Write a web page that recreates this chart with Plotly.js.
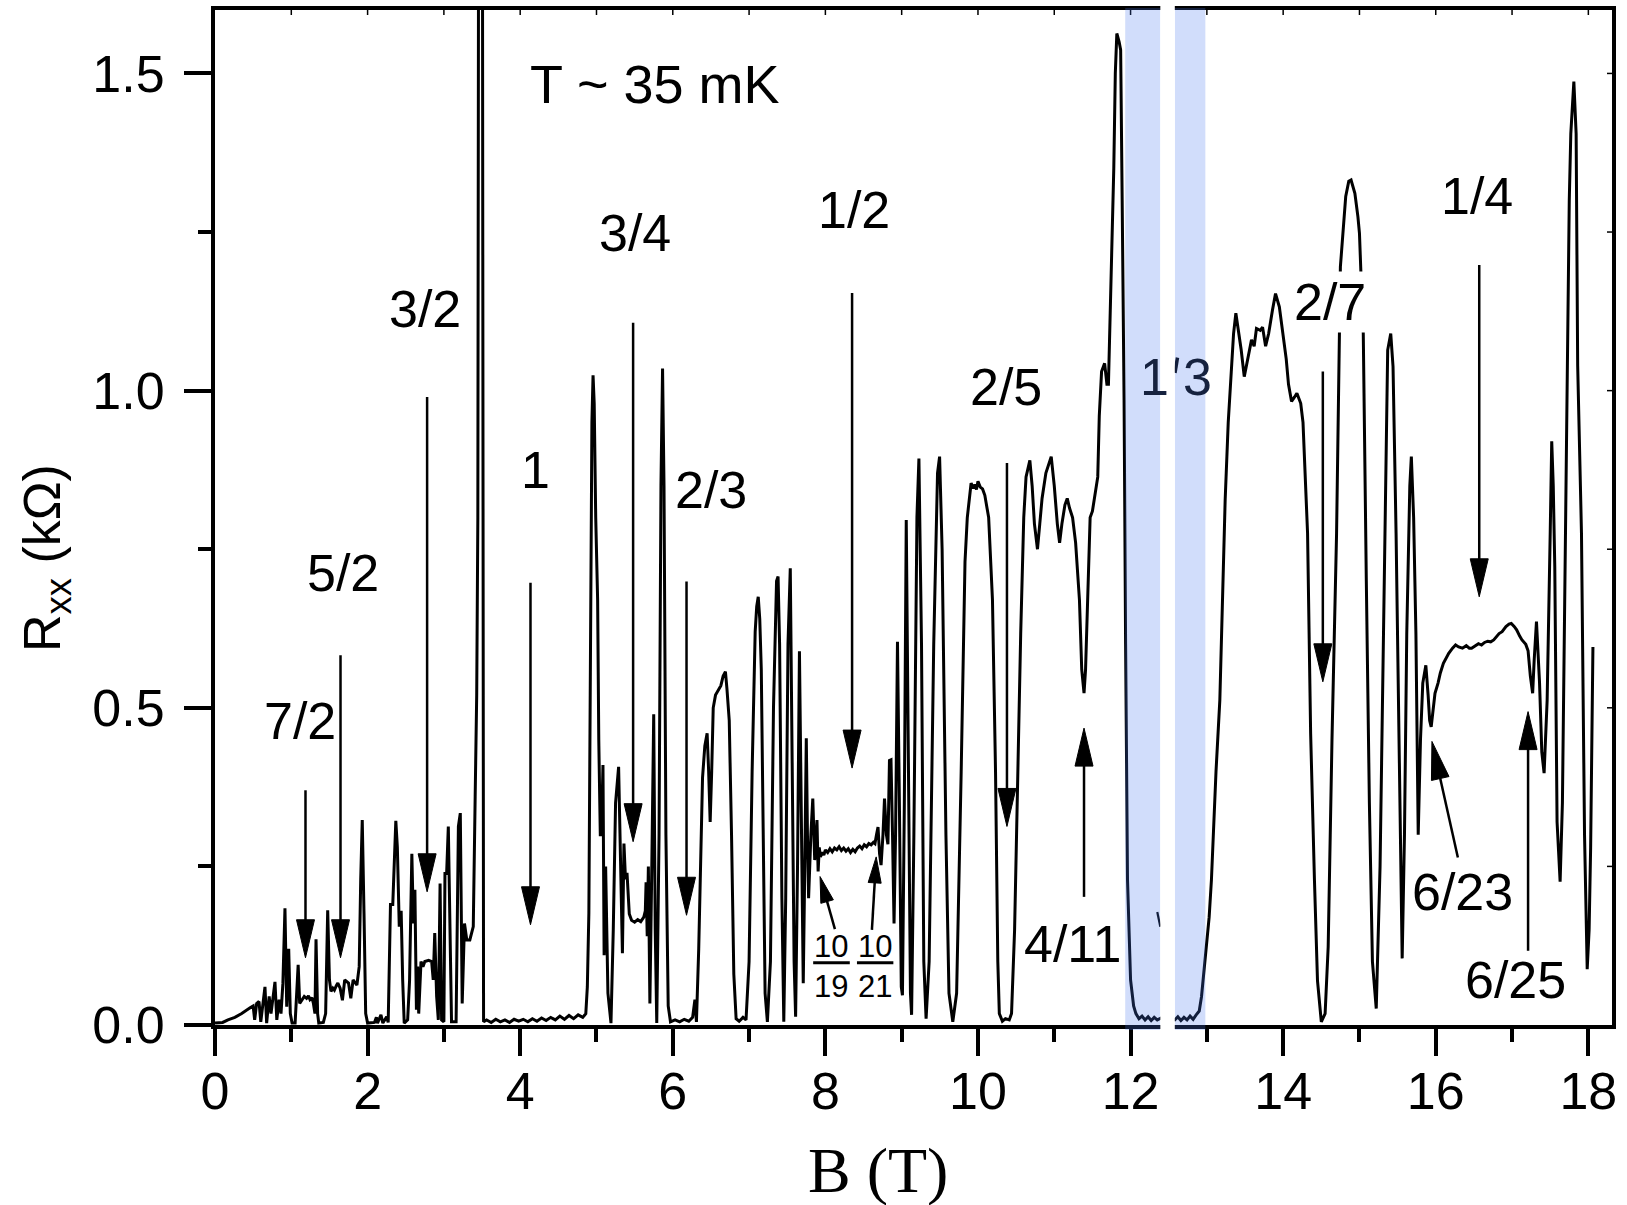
<!DOCTYPE html>
<html>
<head>
<meta charset="utf-8">
<script src="https://cdn.plot.ly/plotly-3.0.1.min.js"></script>
<style>html,body{margin:0;padding:0;background:#fff;}#chart{width:1627px;height:1205px;}</style>
</head>
<body>
<div id="chart"></div>
<script>
// ---------------- data (B in tesla, Rxx in kOhm) ----------------
const bLow = [0,0.10,0.17,0.26,0.35,0.415,0.46,0.50,0.52,0.546,
0.577,0.60,0.62,0.655,0.677,0.71,0.734,0.765,0.786,0.81,
0.84,0.865,0.89,0.917,0.94,0.966,0.987,1.01,1.05,1.075,
1.09,1.11,1.145,1.17,1.20,1.225,1.245,1.27,1.29,1.31,
1.324,1.345,1.36,1.42,1.45,1.477,1.50,1.52,1.545,1.565,
1.59,1.61,1.64,1.67,1.70,1.75,1.78,1.81,1.86,1.89,
1.91,1.93,1.953,1.975,2.00,2.09,2.115,2.13,2.175,2.20,
2.25,2.27,2.30,2.33,2.37,2.39,2.415,2.44,2.46,2.48,
2.525,2.55,2.58,2.60,2.62,2.64,2.656,2.67,2.70,2.726,
2.75,2.80,2.84,2.86,2.88,2.905,2.927,2.95,2.97,3.00,
3.014,3.036,3.058,3.08,3.10,3.16,3.19,3.215,3.24,3.27,
3.30,3.34,3.385,3.41,3.43,3.445,3.455,3.505,3.52,3.56,
3.62,3.68,3.74,3.80,3.86,3.92,3.98,4.04,4.10,4.16,
4.22,4.28,4.34,4.40,4.46,4.52,4.58,4.64,4.70,4.76,
4.82,4.86,4.88];
const rLow = [0.003,0.004,0.008,0.012,0.018,0.024,0.027,0.030,0.008,0.034,
0.037,0.005,0.024,0.060,0.003,0.045,0.018,0.050,0.068,0.008,
0.040,0.018,0.066,0.184,0.029,0.120,0.018,0.003,0.003,0.060,
0.095,0.034,0.040,0.045,0.042,0.046,0.040,0.043,0.034,0.018,
0.135,0.018,0.003,0.004,0.018,0.181,0.071,0.053,0.058,0.055,
0.062,0.066,0.058,0.039,0.071,0.066,0.042,0.071,0.063,0.092,
0.230,0.323,0.176,0.018,0.003,0.004,0.012,0.003,0.016,0.003,
0.013,0.004,0.190,0.190,0.322,0.280,0.155,0.180,0.070,0.003,
0.008,0.070,0.270,0.160,0.213,0.024,0.092,0.018,0.100,0.092,
0.100,0.102,0.100,0.071,0.145,0.045,0.008,0.223,0.008,0.005,
0.239,0.239,0.313,0.150,0.005,0.005,0.313,0.334,0.034,0.160,
0.134,0.134,0.155,0.360,0.520,0.800,1.800,1.800,0.005,0.008,
0.004,0.009,0.005,0.008,0.004,0.009,0.006,0.009,0.005,0.010,
0.006,0.011,0.007,0.012,0.008,0.014,0.009,0.015,0.010,0.016,
0.012,0.018,0.060];

const bMid = [4.90,4.92,4.94,4.955,4.97,4.99,5.015,5.03,5.05,5.065,
5.085,5.10,5.12,5.15,5.19,5.22,5.25,5.29,5.32,5.34,
5.36,5.38,5.40,5.43,5.46,5.50,5.54,5.58,5.62,5.64,
5.65,5.665,5.68,5.70,5.725,5.75,5.77,5.79,5.82,5.845,
5.866,5.885,5.91,5.94,5.97,6.03,6.09,6.15,6.21,6.26,
6.29,6.31,6.34,6.37,6.39,6.42,6.45,6.47,6.49,6.51,
6.53,6.56,6.60,6.63,6.66,6.69,6.71,6.74,6.77,6.80,
6.83,6.87,6.92,6.96];
const rMid = [0.176,0.55,0.95,1.024,0.98,0.80,0.67,0.45,0.30,0.30,
0.41,0.11,0.25,0.05,0.003,0.15,0.35,0.407,0.25,0.113,
0.286,0.23,0.24,0.175,0.165,0.162,0.166,0.163,0.17,0.18,
0.225,0.14,0.25,0.034,0.25,0.49,0.15,0.003,0.30,0.85,
1.035,0.85,0.30,0.03,0.005,0.008,0.005,0.009,0.006,0.012,
0.04,0.005,0.12,0.30,0.39,0.44,0.46,0.40,0.32,0.40,
0.50,0.52,0.53,0.535,0.55,0.557,0.53,0.48,0.30,0.08,
0.01,0.006,0.012,0.008];

const bRes = [7.00,7.04,7.08,7.10,7.12,7.14,7.16,7.18,7.21,7.24,
7.28,7.32,7.36,7.38,7.40,7.43,7.455,7.48,7.51,7.54,
7.56,7.59,7.61,7.635,7.66,7.685,7.71,7.73,7.75,7.765,
7.78,7.81,7.835,7.86,7.89,7.905,7.92,7.935,7.96,7.98,
8.00,8.03,8.06,8.09,8.12,8.15,8.18,8.21,8.24,8.27,
8.30,8.33,8.36,8.39,8.42,8.45,8.48,8.51,8.54,8.57,
8.60,8.63,8.65,8.67,8.69,8.71,8.73,8.755,8.775,8.80,
8.82,8.84,8.86,8.88,8.90,8.92,8.945,8.97,8.995,9.01,
9.035,9.06,9.09,9.115,9.13,9.16,9.20,9.226,9.26,9.29,
9.32,9.36,9.42,9.47,9.497,9.53,9.58,9.62,9.67,9.72,
9.78,9.83,9.86];
const rRes = [0.10,0.40,0.62,0.66,0.675,0.64,0.56,0.36,0.05,0.005,
0.10,0.50,0.70,0.707,0.60,0.20,0.005,0.20,0.60,0.72,
0.50,0.10,0.013,0.25,0.589,0.30,0.066,0.25,0.452,0.30,
0.20,0.30,0.357,0.26,0.323,0.242,0.28,0.265,0.272,0.268,
0.276,0.272,0.278,0.273,0.279,0.276,0.281,0.275,0.279,0.274,
0.278,0.272,0.277,0.273,0.279,0.282,0.278,0.284,0.281,0.286,
0.284,0.288,0.286,0.30,0.312,0.27,0.252,0.30,0.357,0.30,
0.285,0.417,0.418,0.30,0.16,0.30,0.604,0.35,0.06,0.047,
0.35,0.796,0.40,0.05,0.016,0.30,0.80,0.893,0.60,0.10,
0.01,0.10,0.60,0.87,0.896,0.75,0.30,0.05,0.005,0.05,
0.40,0.73,0.80];

const bHigh = [9.91,9.94,9.96,9.98,10.00,10.03,10.06,10.09,10.14,10.19,
10.23,10.26,10.28,10.32,10.36,10.41,10.44,10.48,10.52,10.56,
10.60,10.63,10.68,10.71,10.74,10.78,10.81,10.84,10.89,10.93,
10.96,11.00,11.04,11.07,11.10,11.14,11.17,11.20,11.24,11.28,
11.33,11.36,11.39,11.41,11.43,11.47,11.50,11.54,11.57,11.59,
11.62,11.66,11.69,11.71,11.75,11.78,11.80,11.82,11.85,11.87,
11.89,11.915,11.935,11.96,12.00,12.04,12.07,12.11,12.15,12.19,
12.23,12.27,12.31,12.35,12.40,12.46,12.52,12.58,12.62,12.66,
12.70,12.74,12.78,12.82,12.86,12.90];
const rHigh = [0.854,0.846,0.852,0.844,0.857,0.848,0.845,0.835,0.80,0.67,
0.40,0.10,0.018,0.006,0.010,0.008,0.018,0.15,0.40,0.617,
0.80,0.864,0.89,0.85,0.79,0.75,0.79,0.83,0.87,0.885,
0.896,0.85,0.79,0.76,0.79,0.82,0.83,0.815,0.80,0.76,
0.67,0.56,0.523,0.56,0.649,0.80,0.81,0.84,0.864,0.96,
1.03,1.043,1.01,1.01,1.20,1.35,1.50,1.563,1.55,1.537,
1.30,0.985,0.60,0.229,0.071,0.03,0.018,0.010,0.014,0.008,
0.013,0.007,0.012,0.008,0.011,0.009,0.010,0.008,0.013,0.007,
0.012,0.008,0.014,0.009,0.016,0.022];

const bTop = [12.93,12.96,12.99,13.03,13.06,13.12,13.17,13.21,13.24,13.28,
13.31,13.35,13.38,13.41,13.45,13.49,13.52,13.54,13.585,13.62,
13.65,13.70,13.73,13.77,13.81,13.86,13.90,13.95,14.00,14.04,
14.07,14.11,14.15,14.18,14.23,14.26,14.32,14.36,14.41,14.45,
14.50,14.55,14.59,14.64,14.70,14.75,14.82,14.86,14.89,14.94,
14.98,15.00,15.03,15.05,15.09,15.13,15.17,15.22,15.27,15.32,
15.37,15.41,15.44,15.48,15.53,15.56,15.59,15.62,15.66,15.68,
15.71,15.74,15.77,15.80,15.83,15.87,15.90,15.92,15.94,15.97,
15.99,16.03,16.06,16.10,16.14,16.17,16.22,16.26,16.30,16.35,
16.40,16.44,16.47,16.52,16.56,16.60,16.64,16.68,16.72,16.76,
16.80,16.83,16.87,16.92,16.96,16.99,17.03,17.06,17.10,17.13,
17.18,17.21,17.24,17.27,17.29,17.32,17.36,17.39,17.42,17.46,
17.50,17.52,17.54,17.56,17.59,17.63,17.66,17.68,17.72,17.75,
17.77,17.81,17.84,17.86,17.91,17.95,17.985,18.01,18.03,18.05,
18.06];
const rTop = [0.045,0.08,0.113,0.17,0.229,0.40,0.512,0.70,0.828,0.95,
1.01,1.09,1.122,1.10,1.064,1.022,1.04,1.048,1.08,1.07,
1.098,1.095,1.10,1.07,1.09,1.127,1.153,1.132,1.09,1.05,
1.01,0.983,0.99,0.996,0.98,0.95,0.775,0.46,0.229,0.07,
0.005,0.018,0.123,0.45,0.775,1.195,1.306,1.33,1.332,1.311,
1.274,1.248,1.15,1.09,0.70,0.35,0.10,0.026,0.25,0.67,
1.064,1.09,1.038,0.775,0.355,0.105,0.30,0.617,0.85,0.896,
0.80,0.617,0.30,0.45,0.539,0.567,0.52,0.48,0.47,0.50,
0.523,0.539,0.555,0.57,0.58,0.586,0.594,0.599,0.596,0.594,
0.598,0.594,0.594,0.598,0.601,0.599,0.603,0.605,0.604,0.607,
0.613,0.617,0.62,0.628,0.632,0.633,0.628,0.623,0.613,0.607,
0.600,0.59,0.55,0.523,0.575,0.636,0.54,0.43,0.397,0.512,
0.775,0.92,0.85,0.722,0.32,0.226,0.35,0.565,1.00,1.30,
1.405,1.487,1.405,1.04,0.775,0.30,0.088,0.15,0.28,0.50,
0.596];

// filling-factor labels (the 1/3 label is split around the white gap)
const fracText = ['7/2','5/2','3/2','1','3/4','2/3','1/2','2/5','4/11','1','3','2/7','1/4','6/23','6/25'];
const fracX    = [1.114,1.674,2.746,4.20,5.511,6.495,8.375,10.367,11.245,12.316,12.874,14.613,16.54,16.356,17.05];
const fracY    = [0.479,0.712,1.129,0.875,1.248,0.843,1.285,1.006,0.128,1.021,1.021,1.14,1.307,0.21,0.071];
const fracInBand = [false,false,false,false,false,false,false,false,false,true,true,false,false,false,false];

// stacked small fractions 10/19 and 10/21
const smallNum  = ['10','10'];
const smallDen  = ['19','21'];
const smallX    = [8.073,8.646];
const smallNumY = 0.1234;
const smallDenY = 0.0604;
const smallBarY = 0.0982;
const smallBarX0 = [7.84,8.414];
const smallBarX1 = [8.32,8.891];

// arrows: tail -> tip (data units), head length/width in px
const arrTailX = [1.186,1.645,2.78,4.135,5.48,6.18,8.35,10.38,11.39,14.52,16.57,16.29,17.21,8.125,8.61];
const arrTailY = [0.370,0.583,0.99,0.697,1.107,0.699,1.154,0.886,0.202,1.03,1.198,0.264,0.117,0.151,0.150];
const arrTipX  = [1.186,1.645,2.78,4.135,5.48,6.18,8.35,10.38,11.39,14.52,16.57,15.95,17.21,7.93,8.666];
const arrTipY  = [0.106,0.106,0.21,0.158,0.289,0.173,0.405,0.313,0.468,0.541,0.675,0.447,0.494,0.234,0.265];
const arrHeadL = [38,38,38,38,38,38,38,38,38,38,38,38,38,26,26];
const arrHeadW = [18,18,18,18,18,18,18,18,18,18,18,18,18,13,13];

// shaded 1/3 region
const bandX0 = [11.93,12.58];
const bandX1 = [12.39,12.98];
const gapX0 = 12.39, gapX1 = 12.58;

// ---------------- layout geometry ----------------
const W = 1627, H = 1205, ML = 215, MR = 15, MT = 10, MB = 180;
const xMax = 18.31, yMax = 1.6;
const SX = (W - ML - MR) / xMax, SY = (H - MT - MB) / yMax;

const B = bLow.concat(bMid, bRes, bHigh, bTop);
const Rxx = rLow.concat(rMid, rRes, rHigh, rTop);

const FONT = 'Liberation Sans, Arial, Helvetica, sans-serif';
const shapes = [];

for (let i = 0; i < arrTailX.length; i++) {
  const tx = arrTailX[i], ty = arrTailY[i], hx = arrTipX[i], hy = arrTipY[i];
  const vx = (hx - tx) * SX, vy = (hy - ty) * SY;
  const len = Math.hypot(vx, vy);
  const ux = vx / len, uy = vy / len;
  const L = arrHeadL[i], w = arrHeadW[i] / 2;
  const bxp = -ux * L, byp = -uy * L;
  const nx = -uy, ny = ux;
  const toX = p => hx + p / SX, toY = p => hy + p / SY;
  const p1x = toX(bxp + nx * w), p1y = toY(byp + ny * w);
  const p2x = toX(bxp - nx * w), p2y = toY(byp - ny * w);
  shapes.push({type:'line', xref:'x', yref:'y', x0:tx, y0:ty,
    x1:toX(bxp + ux * 3), y1:toY(byp + uy * 3),
    line:{color:'black', width:2.5}, layer:'above'});
  shapes.push({type:'path', xref:'x', yref:'y',
    path:`M${hx},${hy}L${p1x},${p1y}L${p2x},${p2y}Z`,
    fillcolor:'black', line:{color:'black', width:1}, layer:'above'});
}
for (let i = 0; i < smallX.length; i++) {
  shapes.push({type:'line', xref:'x', yref:'y', x0:smallBarX0[i], x1:smallBarX1[i],
    y0:smallBarY, y1:smallBarY, line:{color:'black', width:3}, layer:'above'});
}
// remnants of the 1/3 marker and slash under the band
shapes.push({type:'line', xref:'x', yref:'y', x0:12.35, y0:0.178, x1:12.39, y1:0.155,
  line:{color:'black', width:2.2}, layer:'above'});
shapes.push({type:'line', xref:'x', yref:'y', x0:12.582, y0:1.028, x1:12.615, y1:1.052,
  line:{color:'black', width:3.5}, layer:'above'});
// mirrored small inward ticks (top & right)
for (let t = 1; t <= 18; t++) {
  shapes.push({type:'line', xref:'x', yref:'paper', ysizemode:'pixel', yanchor:1,
    x0:t, x1:t, y0:0, y1:-5, line:{color:'black', width:1.5}, layer:'above'});
}
for (let k = 1; k <= 6; k++) {
  const t = k * 0.25;
  shapes.push({type:'line', xref:'paper', yref:'y', xsizemode:'pixel', xanchor:1,
    y0:t, y1:t, x0:0, x1:-5, line:{color:'black', width:1.5}, layer:'above'});
}
// blue bands and white gap
for (let i = 0; i < bandX0.length; i++) {
  shapes.push({type:'rect', xref:'x', yref:'paper', x0:bandX0[i], x1:bandX1[i],
    y0:-0.005, y1:1.002, fillcolor:'rgba(70,120,240,0.25)', line:{width:0}, layer:'above'});
}
shapes.push({type:'rect', xref:'x', yref:'paper', x0:gapX0, x1:gapX1,
  y0:-0.008, y1:1.006, fillcolor:'white', line:{width:0}, layer:'above'});

const annotations = [];
annotations.push({xref:'x', yref:'y', x:5.77, y:1.483, text:'T ~ 35 mK', showarrow:false,
  font:{family:FONT, size:54, color:'black'}, xanchor:'center', yanchor:'middle'});
for (let i = 0; i < fracText.length; i++) {
  const a = {xref:'x', yref:'y', x:fracX[i], y:fracY[i], text:fracText[i], showarrow:false,
    font:{family:FONT, size:52, color:fracInBand[i] ? '#16223f' : 'black'}, xanchor:'center', yanchor:'middle'};
  if (fracText[i] === '2/7') a.bgcolor = 'white';
  annotations.push(a);
}
for (let i = 0; i < smallX.length; i++) {
  annotations.push({xref:'x', yref:'y', x:smallX[i], y:smallNumY, text:smallNum[i], showarrow:false,
    font:{family:FONT, size:31, color:'black'}, xanchor:'center', yanchor:'middle'});
  annotations.push({xref:'x', yref:'y', x:smallX[i], y:smallDenY, text:smallDen[i], showarrow:false,
    font:{family:FONT, size:31, color:'black'}, xanchor:'center', yanchor:'middle'});
}
// axis titles
annotations.push({xref:'paper', yref:'paper', x:(46 - ML) / (W - ML - MR), y:(H - MB - 558) / (H - MT - MB),
  text:'R<sub>xx</sub> (kΩ)', textangle:-90, showarrow:false,
  font:{family:FONT, size:52, color:'black'}, xanchor:'center', yanchor:'middle'});
annotations.push({xref:'paper', yref:'paper', x:(878 - ML) / (W - ML - MR), y:(H - MB - 1170) / (H - MT - MB),
  text:'B (T)', showarrow:false,
  font:{family:'Liberation Serif, Times New Roman, serif', size:64, color:'black'}, xanchor:'center', yanchor:'middle'});

const axisCommon = {
  showgrid:false, zeroline:false, showline:true, linecolor:'black', linewidth:4, mirror:true,
  ticks:'outside', ticklen:27, tickwidth:4, tickcolor:'black',
  tickfont:{family:FONT, size:52, color:'black'}, fixedrange:true
};

const layout = {
  width:W, height:H, margin:{l:ML, r:MR, t:MT, b:MB},
  paper_bgcolor:'white', plot_bgcolor:'white', showlegend:false,
  xaxis:Object.assign({}, axisCommon, {range:[0, xMax], tick0:0, dtick:2, ticklabelstandoff:-9,
    minor:{ticks:'outside', ticklen:13, tickwidth:4, tickcolor:'black', tick0:0, dtick:1, showgrid:false}}),
  yaxis:Object.assign({}, axisCommon, {range:[0, yMax], tick0:0, dtick:0.5, tickformat:'.1f', ticklabelstandoff:9,
    minor:{ticks:'outside', ticklen:13, tickwidth:4, tickcolor:'black', tick0:0, dtick:0.25, showgrid:false}}),
  shapes:shapes, annotations:annotations
};

const trace = {x:B, y:Rxx, type:'scatter', mode:'lines',
  line:{color:'black', width:3}, hoverinfo:'skip'};

Plotly.newPlot('chart', [trace], layout, {displayModeBar:false, staticPlot:true});
</script>
</body>
</html>
